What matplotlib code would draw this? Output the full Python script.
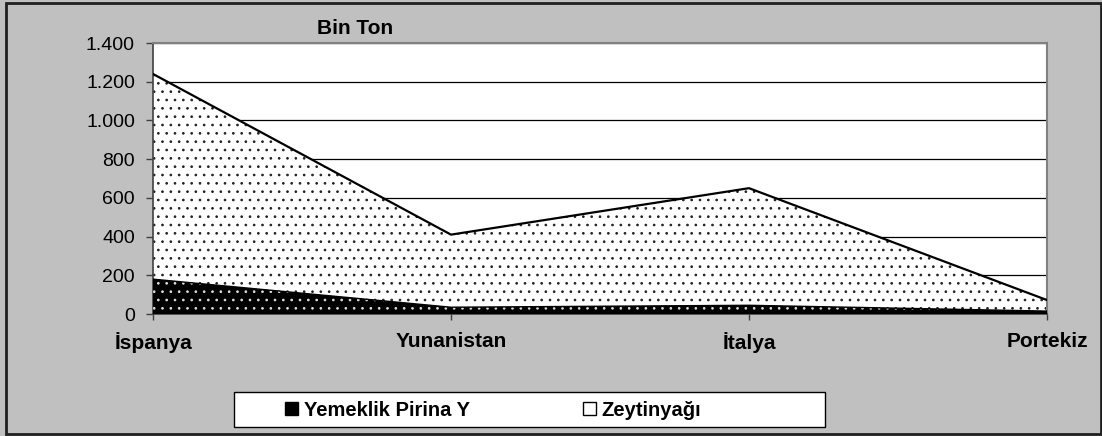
import matplotlib.pyplot as plt
from matplotlib.patches import Rectangle, Patch
from matplotlib.ticker import FuncFormatter

plt.rcParams['font.family'] = ['Liberation Sans', 'DejaVu Sans']
plt.rcParams['hatch.linewidth'] = 0.7

# Data (bin ton)
countries = ['İspanya', 'Yunanistan', 'İtalya', 'Portekiz']
pirina = [180, 35, 45, 15]
zeytinyagi = [1060, 375, 605, 57]
series_names = ['Yemeklik Pirina Y', 'Zeytinyağı']

W, H = 1102, 436
fig = plt.figure(figsize=(W / 100, H / 100), dpi=100)
fig.patch.set_facecolor('#C0C0C0')

ax = fig.add_axes([153 / W, 1 - 314 / H, (1047 - 153) / W, (314 - 43) / H])
ax.set_facecolor('white')

x = list(range(len(countries)))
total = [a + b for a, b in zip(pirina, zeytinyagi)]

# Zeytinyağı: white area with black dots, stacked on pirina
ax.fill_between(x, pirina, total, facecolor='white', edgecolor='#202020',
                hatch='..', linewidth=0, zorder=2)
# Yemeklik pirina: black area with white dots
ax.fill_between(x, 0, pirina, facecolor='black', edgecolor='#e0e0e0',
                hatch='..', linewidth=0, zorder=3)
ax.plot(x, total, color='black', lw=1.6, zorder=4)
ax.plot(x, pirina, color='black', lw=1.0, zorder=4)

ax.set_xlim(0, 3)
ax.set_ylim(0, 1400)
ax.set_yticks(range(0, 1401, 200))
ax.yaxis.set_major_formatter(FuncFormatter(lambda v, p: f'{int(v):,}'.replace(',', '.')))
ax.grid(True, axis='y', color='black', lw=0.9, zorder=1)
ax.set_axisbelow(True)

ax.set_xticks(x)
ax.set_xticklabels(countries, fontsize=15, fontweight='bold')
ax.tick_params(axis='x', length=4, width=1, color='#404040', pad=9)
ax.tick_params(axis='y', length=5, width=1, color='#404040', pad=8, labelsize=14)

for s in ['top', 'right']:
    ax.spines[s].set_color('#808080')
    ax.spines[s].set_linewidth(1.5)
for s in ['left', 'bottom']:
    ax.spines[s].set_color('#404040')
    ax.spines[s].set_linewidth(1.2)

fig.text(355 / W, 1 - 28 / H, 'Bin Ton', fontsize=15, fontweight='bold',
         ha='center', va='center')

# outer border
fig.patches.append(Rectangle((6 / W, 1 - 434 / H), (1101 - 6) / W, (434 - 3) / H,
                             transform=fig.transFigure, fill=False,
                             edgecolor='#202020', lw=2))

# legend frame
fig.patches.append(Rectangle((234 / W, 1 - 427 / H), (825 - 234) / W, (427 - 392) / H,
                             transform=fig.transFigure, facecolor='white',
                             edgecolor='black', lw=1, zorder=5))
handles = [Patch(facecolor='black', edgecolor='black', label=series_names[0]),
           Patch(facecolor='white', edgecolor='black', label=series_names[1])]
leg = fig.legend(handles=handles, loc='center', bbox_to_anchor=(493 / W, 1 - 410 / H),
                 ncol=2, frameon=False, handlelength=0.65, handleheight=0.65,
                 handletextpad=0.3, columnspacing=5.6,
                 prop={'size': 14.5, 'weight': 'bold'})
leg.set_zorder(6)

fig.savefig('out.png', dpi=100, facecolor=fig.get_facecolor())
